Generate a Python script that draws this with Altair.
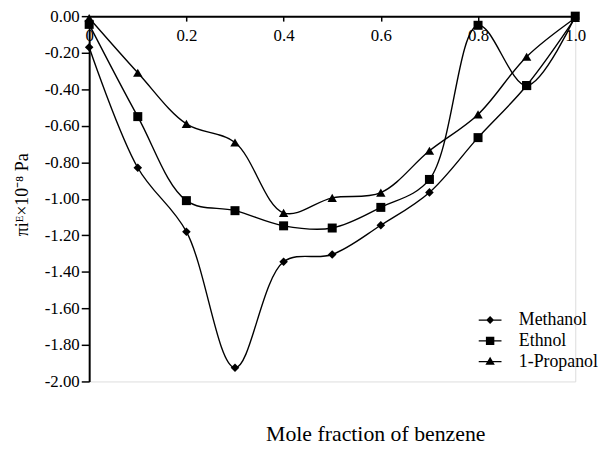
import altair as alt
import pandas as pd

# ---- data ----
x_vals = [0.0, 0.1, 0.2, 0.3, 0.4, 0.5, 0.6, 0.7, 0.8, 0.9, 1.0]
series_names = ["Methanol", "Ethnol", "1-Propanol"]
methanol = [-0.17, -0.83, -1.18, -1.925, -1.345, -1.305, -1.145, -0.965, -0.665, -0.38, -0.01]
ethnol = [-0.045, -0.55, -1.01, -1.065, -1.148, -1.16, -1.047, -0.894, -0.05, -0.38, 0.0]
propanol = [-0.01, -0.31, -0.59, -0.692, -1.077, -0.995, -0.966, -0.737, -0.538, -0.222, -0.01]
# methanol points drawn with square markers in the reference
methanol_square_at = [0.8, 0.9]

x_ticks = [0.0, 0.2, 0.4, 0.6, 0.8, 1.0]
y_ticks = [0.0, -0.2, -0.4, -0.6, -0.8, -1.0, -1.2, -1.4, -1.6, -1.8, -2.0]

rows = []
for name, vals in zip(series_names, [methanol, ethnol, propanol]):
    for xv, yv in zip(x_vals, vals):
        marker = name
        if name == "Methanol" and xv in methanol_square_at:
            marker = "Ethnol"
        rows.append({"series": name, "x": xv, "y": yv, "marker": marker})
df = pd.DataFrame(rows)

FONT = "Liberation Serif"
W, H = 491, 369

X = alt.X(
    "x:Q",
    scale=alt.Scale(domain=[0, 1], nice=False, zero=False),
    axis=alt.Axis(
        orient="bottom", offset=-H, values=x_ticks, title=None, grid=False,
        labelExpr="datum.value == 0 ? '0' : format(datum.value, '.1f')",
        labelFlush=False, tickSize=5, tickWidth=1.5, domainWidth=2,
        labelPadding=7, labelFont=FONT, labelFontSize=17,
        domainColor="black", tickColor="black", labelColor="black",
    ),
)
Y = alt.Y(
    "y:Q",
    scale=alt.Scale(domain=[-2, 0], nice=False, zero=False),
    axis=alt.Axis(
        values=y_ticks, grid=False,
        labelExpr="replace(format(datum.value, '.2f'), '\u2212', '-')",
        tickSize=8, tickWidth=1.5, domainWidth=2, labelPadding=2,
        labelFont=FONT, labelFontSize=17,
        domainColor="black", tickColor="black", labelColor="black",
        title="\u03c0i\u1d31\u00d710\u207b\u2078 Pa",
        titleFont=FONT, titleFontSize=18, titleFontWeight="normal",
        titleColor="black", titleX=-67, titleY=180, titleAngle=270,
        titleAlign="center", titleBaseline="middle",
    ),
)

lines = alt.Chart(df).mark_line(
    interpolate="catmull-rom", color="black", strokeWidth=1.4
).encode(x=X, y=Y, detail="series:N")

points = alt.Chart(df).mark_point(
    filled=True, color="black", opacity=1
).encode(
    x=X, y=Y,
    shape=alt.Shape("marker:N", scale=alt.Scale(domain=series_names,
                    range=["diamond", "square", "triangle-up"]), legend=None),
    size=alt.Size("marker:N", scale=alt.Scale(domain=series_names,
                  range=[75, 90, 105]), legend=None),
)

# legend symbols: a thin filled bar (the line) plus the marker
legend_paths = [
    "M-2.3,-0.13H2.3V0.13H-2.3ZM-0.8,0L0,-0.8L0.8,0L0,0.8Z",
    "M-2.3,-0.13H2.3V0.13H-2.3ZM-0.85,-0.85H0.85V0.85H-0.85Z",
    "M-2.3,-0.13H2.3V0.13H-2.3ZM0,-1L0.95,0.65H-0.95Z",
]
legend_layer = alt.Chart(df).mark_point(
    filled=True, color="black", opacity=0
).encode(
    x=X, y=Y,
    shape=alt.Shape(
        "series:N",
        scale=alt.Scale(domain=series_names, range=legend_paths),
        legend=alt.Legend(
            orient="none", legendX=396, legendY=298, title=None,
            labelFont=FONT, labelFontSize=18, labelColor="black",
            symbolSize=100, symbolFillColor="black", symbolOpacity=1,
            symbolStrokeWidth=0, labelOffset=20, rowPadding=3,
        ),
    ),
)

chart = alt.layer(lines, points, legend_layer).resolve_scale(
    shape="independent", size="independent"
).properties(
    width=W, height=H,
    autosize=alt.AutoSizeParams(type="none"),
    padding={"left": 82, "top": 6, "right": 25, "bottom": 66},
    title=alt.TitleParams(
        "Mole fraction of benzene", orient="bottom", anchor="middle",
        font=FONT, fontSize=22, fontWeight="normal", color="black",
        offset=35, dx=44,
    ),
).configure_view(stroke=None).configure(background="white")

chart.save("out.html", embed_options={"renderer": "svg", "actions": False})
